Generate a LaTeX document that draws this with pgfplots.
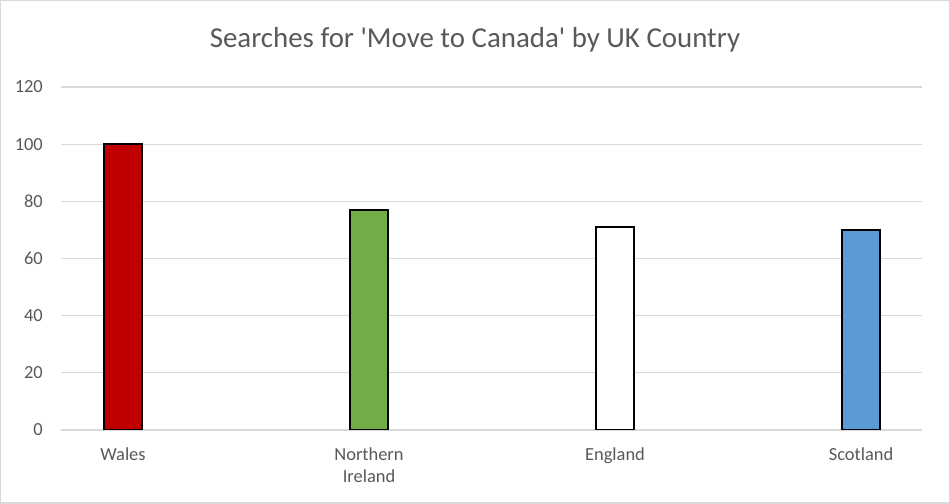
\documentclass[border=0pt]{standalone}
\usepackage{fontspec}
\setmainfont{Carlito}[Ligatures=TeXOff]
\usepackage{pgfplots}
\pgfplotsset{compat=1.18}
\definecolor{txt}{HTML}{595959}
\definecolor{grid}{HTML}{D9D9D9}
\definecolor{cred}{HTML}{C00000}
\definecolor{cgreen}{HTML}{70AD47}
\definecolor{cblue}{HTML}{5B9BD5}
\begin{document}
\begin{tikzpicture}[x=1bp,y=1bp]
\useasboundingbox (0,0) rectangle (950,504);
\fill[white] (0,0) rectangle (950,504);
\draw[grid, line width=1.5bp] (0.75,0.75) rectangle (949.25,503.25);
\node[anchor=base, text=txt, font=\fontsize{29}{34}\selectfont, inner sep=0] at (475,456) {Searches for 'Move to Canada' by UK Country};
\begin{axis}[
  at={(61bp,74bp)}, anchor=south west,
  scale only axis, width=861bp, height=343bp,
  xmin=-0.252, xmax=3.248, ymin=0, ymax=120,
  ytick={0,20,...,120},
  xtick={0,1,2,3},
  xticklabels={Wales,{Northern\\Ireland},England,Scotland},
  axis line style={draw=none},
  xmajorgrids=false, ymajorgrids=true,
  y grid style={grid, line width=1.2bp},
  major tick length=0pt,
  xtick style={draw=none}, ytick style={draw=none},
  /pgf/number format/assume math mode=true,
  tick label style={text=txt, font=\fontsize{18.5}{22}\selectfont},
  yticklabel style={anchor=east, inner sep=0pt, xshift=-18bp},
  xticklabel style={anchor=north, align=center, inner sep=0pt, yshift=-18bp},
  ybar, bar width=38bp,
  every axis plot/.append style={bar shift=0pt, draw=black, line width=1.5bp},
]
\addplot[fill=cred, draw=black] coordinates {(0,100)};
\addplot[fill=cgreen, draw=black] coordinates {(1,77)};
\addplot[fill=white, draw=black] coordinates {(2,71)};
\addplot[fill=cblue, draw=black] coordinates {(3,70)};
\end{axis}
\end{tikzpicture}
\end{document}
